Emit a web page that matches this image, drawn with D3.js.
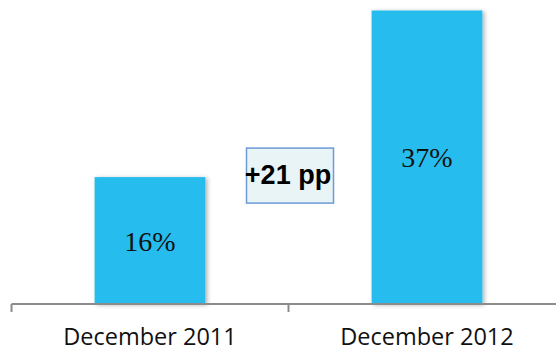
<!DOCTYPE html>
<html>
<head>
<meta charset="utf-8">
<script src="https://cdn.jsdelivr.net/npm/d3@7/dist/d3.min.js"></script>
<style>
  html, body { margin: 0; padding: 0; background: #fff; }
  svg { display: block; }
</style>
</head>
<body>
<svg id="chart" width="556" height="352"></svg>
<script>
// Share of respondents at each point in time (%)
const categories = ["December 2011", "December 2012"];
const values = [16, 37];
const valueLabels = ["16%", "37%"];

const W = 556, H = 352;
const svg = d3.select("#chart");

const defs = svg.append("defs");
const shadow = defs.append("filter").attr("id", "barShadow")
  .attr("x", "-10%").attr("y", "-10%").attr("width", "130%").attr("height", "130%");
shadow.append("feDropShadow")
  .attr("dx", 2).attr("dy", 1).attr("stdDeviation", 2)
  .attr("flood-color", "#000").attr("flood-opacity", 0.3);

// Each category owns a band; the axis ticks sit on band edges
const x = d3.scaleBand().domain(categories).range([11.5, 565.5]).padding(0);
const barWidth = x.bandwidth() * 0.4;
const y = d3.scaleLinear().domain([0, 37]).range([304, 10.5]);

// Bars
svg.append("g").selectAll("rect")
  .data(values)
  .join("rect")
  .attr("x", (d, i) => x(categories[i]) + (x.bandwidth() - barWidth) / 2)
  .attr("y", d => y(d))
  .attr("width", barWidth)
  .attr("height", d => y(0) - y(d))
  .attr("fill", "#27bdee")
  .attr("filter", "url(#barShadow)");

// Value labels centred inside each bar
svg.append("g").selectAll("text")
  .data(values)
  .join("text")
  .attr("x", (d, i) => x(categories[i]) + x.bandwidth() / 2)
  .attr("y", d => (y(d) + y(0)) / 2 + 10)
  .attr("text-anchor", "middle")
  .attr("font-family", "'Liberation Serif', 'Times New Roman', serif")
  .attr("font-size", 28)
  .attr("fill", "#111")
  .text((d, i) => valueLabels[i]);

// Category axis
const axis = svg.append("g").attr("transform", `translate(0,${y(0)})`);
axis.call(d3.axisBottom(x).tickSize(0).tickPadding(0))
  .call(g => g.select(".domain").remove());
axis.selectAll(".tick text")
  .attr("y", 41)
  .attr("dy", 0)
  .attr("font-family", "'Open Sans', 'Noto Sans', sans-serif")
  .attr("font-size", 23.5)
  .attr("fill", "#111");
axis.append("line")
  .attr("x1", x.range()[0]).attr("x2", W)
  .attr("y1", 0).attr("y2", 0)
  .attr("stroke", "#8c8c8c").attr("stroke-width", 2);
const edges = categories.map(c => x(c));
axis.selectAll(".edge")
  .data(edges)
  .join("line")
  .attr("class", "edge")
  .attr("x1", d => d).attr("x2", d => d)
  .attr("y1", 0).attr("y2", 8)
  .attr("stroke", "#8c8c8c").attr("stroke-width", 2);

// Change between the two periods
const delta = values[1] - values[0];
const boxW = 87, boxH = 55;
const boxCx = x(categories[1]) + 1.5;
const boxCy = y(values[0]) - 1.5;
svg.append("rect")
  .attr("x", boxCx - boxW / 2)
  .attr("y", boxCy - boxH / 2)
  .attr("width", boxW)
  .attr("height", boxH)
  .attr("fill", "#e9f4f7")
  .attr("stroke", "#6c9ad6")
  .attr("stroke-width", 1.5);
svg.append("text")
  .attr("x", boxCx - 2)
  .attr("y", boxCy + 8)
  .attr("text-anchor", "middle")
  .attr("font-family", "'Liberation Sans', Arial, sans-serif")
  .attr("font-weight", "bold")
  .attr("font-size", 27)
  .attr("fill", "#000")
  .text(`+${delta} pp`);
</script>
</body>
</html>
